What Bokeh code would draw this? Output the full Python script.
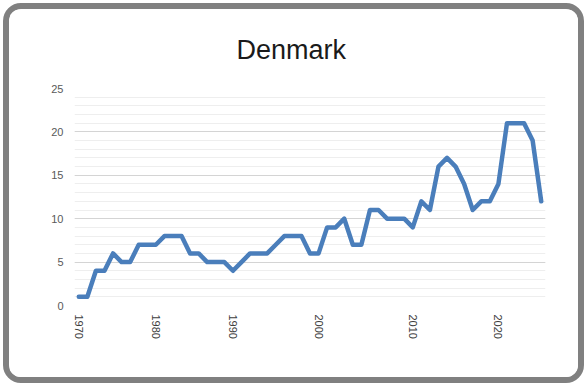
import math
from bokeh.plotting import figure
from bokeh.models import SingleIntervalTicker, FixedTicker, Range1d
from bokeh.embed import file_html
from bokeh.resources import INLINE

# ---- data ----
values = [1, 1, 4, 4, 6, 5, 5, 7, 7, 7,
          8, 8, 8, 6, 6, 5, 5, 5, 4, 5,
          6, 6, 6, 7, 8, 8, 8, 6, 6, 9,
          9, 10, 7, 7, 11, 11, 10, 10, 10, 9,
          12, 11, 16, 17, 16, 14, 11, 12, 12, 14,
          21, 21, 21, 19, 12]
observations = list(range(len(values)))
decade_labels = ["1970", "1980", "1990", "2000", "2010", "2020"]
decade_obs = [0, 9, 18, 28, 39, 49]

FONT = "'Liberation Sans', Arial, sans-serif"

p = figure(width=581, height=380, output_backend="svg", toolbar_location=None,
           x_range=Range1d(-0.5, len(values) - 0.5), y_range=Range1d(0, 25),
           min_border_left=65, min_border_right=45, min_border_top=79,
           min_border_bottom=84)

p.title.text = "Denmark"
p.title.text_font = FONT
p.title.text_font_size = "27px"
p.title.text_font_style = "normal"
p.title.text_color = "#1a1a1a"
p.title.align = "left"
p.title.offset = 162
p.title.standoff = 47

p.line(observations, values, line_color="#4a7ebb", line_width=4.5,
       line_join="round", line_cap="round")

p.outline_line_color = None
p.background_fill_color = "white"
p.border_fill_color = "white"

# y axis
p.yaxis.ticker = SingleIntervalTicker(interval=5, num_minor_ticks=5)
p.yaxis.axis_line_color = None
p.yaxis.major_tick_line_color = None
p.yaxis.minor_tick_line_color = None
p.yaxis.major_tick_out = 0
p.yaxis.major_tick_in = 0
p.yaxis.minor_tick_out = 0
p.yaxis.major_label_text_font = FONT
p.yaxis.major_label_text_font_size = "11px"
p.yaxis.major_label_text_color = "#595959"
p.yaxis.major_label_standoff = 11

p.ygrid.grid_line_color = "#d4d4d4"
p.ygrid.grid_line_width = 1
p.ygrid.minor_grid_line_color = "#eeeeee"
p.ygrid.minor_grid_line_width = 1
p.xgrid.grid_line_color = None

# x axis
p.xaxis.ticker = FixedTicker(ticks=decade_obs, minor_ticks=[])
p.xaxis.major_label_overrides = {o: l for o, l in zip(decade_obs, decade_labels)}
p.xaxis.major_label_orientation = -math.pi / 2
p.xaxis.axis_line_color = None
p.xaxis.major_tick_line_color = None
p.xaxis.minor_tick_line_color = None
p.xaxis.major_tick_out = 0
p.xaxis.major_tick_in = 0
p.xaxis.minor_tick_out = 0
p.xaxis.major_label_text_font = FONT
p.xaxis.major_label_text_font_size = "11px"
p.xaxis.major_label_text_color = "#404040"
p.xaxis.major_label_standoff = 9

p.styles = {"box-sizing": "border-box", "border": "6px solid #808080",
            "border-radius": "18px", "margin-left": "3px", "margin-top": "3px",
            "overflow": "hidden"}

open("out.html", "w").write(file_html(p, INLINE))
